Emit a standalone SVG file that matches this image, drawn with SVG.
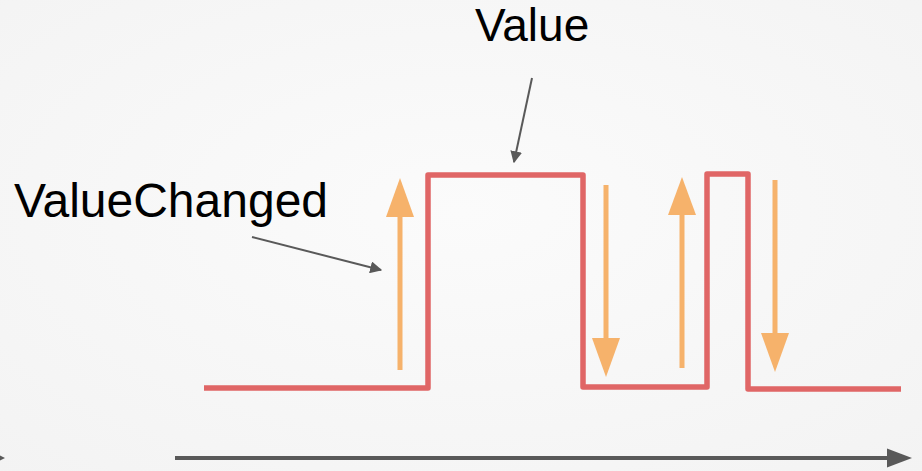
<svg xmlns="http://www.w3.org/2000/svg" width="922" height="471" viewBox="0 0 922 471">
  <style>
    .label { font-family: "Liberation Sans", Arial, sans-serif; fill: #000000; }
    .signal { fill: none; stroke: #e06666; stroke-width: 5.5; stroke-linejoin: round; stroke-linecap: butt; }
    .edge { fill: none; stroke: #f6b26b; stroke-width: 5; }
    .edge-head { fill: #f6b26b; }
    .pointer { fill: none; stroke: #595959; stroke-width: 2; }
    .axis { fill: none; stroke: #595959; stroke-width: 4; }
    .dark-head { fill: #595959; }
  </style>
  <defs>
    <radialGradient id="bg" cx="50%" cy="45%" r="75%">
      <stop offset="0" stop-color="#fbfbfb"/>
      <stop offset="1" stop-color="#f3f3f3"/>
    </radialGradient>
    <marker id="ptr" viewBox="0 0 10 10" refX="9" refY="5" markerWidth="6" markerHeight="6" markerUnits="strokeWidth" orient="auto">
      <path d="M0,0 L10,5 L0,10 Z" class="dark-head"/>
    </marker>
  </defs>

  <rect x="0" y="0" width="922" height="471" fill="url(#bg)"/>

  <!-- labels -->
  <g id="label-value">
    <text class="label" x="475" y="41" font-size="46">Value</text>
  </g>
  <g id="label-valuechanged">
    <text class="label" x="14" y="217" font-size="48">ValueChanged</text>
  </g>

  <!-- square-wave signal -->
  <g id="signal">
    <path class="signal" d="M204,388 L428,388 L428,175 L583,175 L583,387 L707,387 L707,174 L748,174 L748,389 L901,389"/>
  </g>

  <!-- change events -->
  <g id="events">
    <g id="event-rise-1">
      <line class="edge" x1="400" y1="370" x2="400" y2="214"/>
      <path class="edge-head" d="M400,178 L414,217 L386,217 Z"/>
    </g>
    <g id="event-fall-1">
      <line class="edge" x1="606" y1="185" x2="606" y2="342"/>
      <path class="edge-head" d="M606,377 L620,338 L592,338 Z"/>
    </g>
    <g id="event-rise-2">
      <line class="edge" x1="682" y1="368" x2="682" y2="212"/>
      <path class="edge-head" d="M682,177 L696,215 L668,215 Z"/>
    </g>
    <g id="event-fall-2">
      <line class="edge" x1="775" y1="180" x2="775" y2="337"/>
      <path class="edge-head" d="M775,372 L789,333 L761,333 Z"/>
    </g>
  </g>

  <!-- callout pointers and time axis -->
  <g id="connectors">
    <line class="pointer" x1="532" y1="78" x2="514" y2="162" marker-end="url(#ptr)"/>
    <line class="pointer" x1="252" y1="237" x2="381" y2="270" marker-end="url(#ptr)"/>
    <line class="axis" x1="175" y1="458" x2="890" y2="458"/>
    <path class="dark-head" d="M912,458 L887,448.5 L887,467.5 Z"/>
    <path class="dark-head" d="M0,455.5 L5,458 L0,460.5 Z"/>
  </g>
</svg>
